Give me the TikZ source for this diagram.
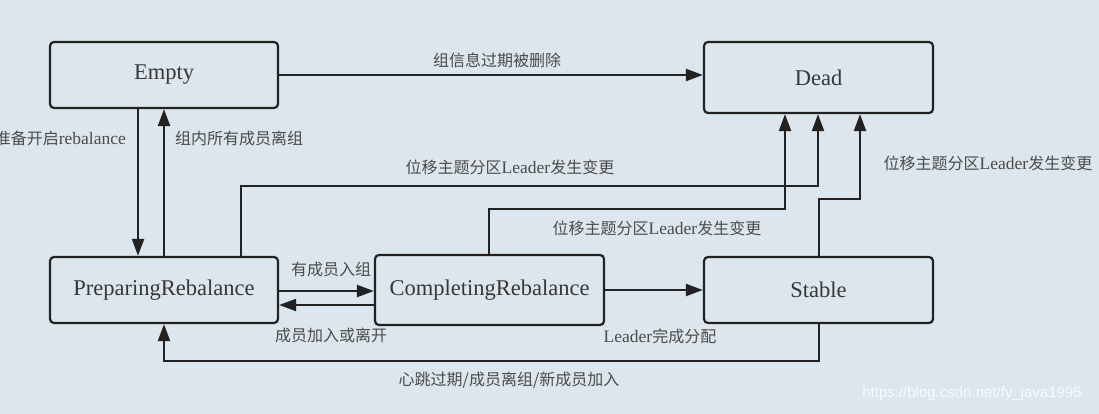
\documentclass[tikz,border=0pt]{standalone}
\usepackage{fontspec}
\setmainfont{Liberation Serif}
\newfontfamily\cjk{Noto Sans CJK SC}
\newfontfamily\wmfont{Liberation Sans}
\usetikzlibrary{arrows.meta}
\definecolor{bg}{RGB}{220,230,236}
\definecolor{ln}{RGB}{34,34,34}
\definecolor{tx}{RGB}{55,55,55}
\definecolor{lb}{RGB}{75,75,75}
\definecolor{wm}{RGB}{248,250,252}
\newcommand\zhtxt[1]{{\cjk\fontsize{16}{19}\selectfont #1}}
\begin{document}
\begin{tikzpicture}[x=1pt,y=-1pt,
  state/.style={draw=ln, line width=2.2pt, rounded corners=4pt, fill=bg,
    minimum width=228pt, minimum height=66pt, inner sep=0pt, text=tx,
    font=\fontsize{22.5}{26}\selectfont},
  conn/.style={draw=ln, line width=2.2pt, -{Triangle[length=17pt,width=12pt]}},
  lbl/.style={text=lb, font=\fontsize{17.5}{20}\selectfont, inner sep=0pt},
]
\fill[bg] (0,0) rectangle (1099,414);
\useasboundingbox (0,0) rectangle (1099,414);

% states
\node[state] (empty) at (164,75) {Empty};
\node[state, minimum width=229pt, minimum height=71pt] (dead) at (818.5,77.5) {Dead};
\node[state] (prep) at (164,290) {PreparingRebalance};
\node[state, minimum width=229pt, minimum height=70pt] (comp) at (489.5,290) {CompletingRebalance};
\node[state, minimum width=229pt] (stable) at (818.5,290) {Stable};

% helper coordinates
\coordinate (pd) at (241,186);
\coordinate (cd) at (489,209);
\coordinate (sd) at (819,199);
\coordinate (sb) at (819,361);

% connectors
\draw[conn] (empty.east) -- (dead.west |- empty.east);
\draw[conn] (empty.south -| 138,0) -- (prep.north -| 138,0);
\draw[conn] (prep.north -| 164,0) -- (empty.south -| 164,0);
\draw[conn] (prep.north -| pd) -- (pd) -- (pd -| 818,0) -- (dead.south -| 818,0);
\draw[conn] (comp.north -| cd) -- (cd) -- (cd -| 785,0) -- (dead.south -| 785,0);
\draw[conn] (stable.north -| sd) -- (sd) -- (sd -| 860,0) -- (dead.south -| 860,0);
\draw[conn] (prep.east |- 0,291) -- (comp.west |- 0,291);
\draw[conn] (comp.west |- 0,305) -- (prep.east |- 0,305);
\draw[conn] (comp.east) -- (stable.west);
\draw[conn] (stable.south -| sb) -- (sb) -- (sb -| prep.south) -- (prep.south);

% labels
\node[lbl] (l1) at (497,60) {\zhtxt{组信息过期被删除}};
\node[lbl, anchor=east] (l2) at (126,138) {\zhtxt{准备开启}rebalance};
\node[lbl, anchor=west] (l3) at (175,138) {\zhtxt{组内所有成员离组}};
\node[lbl] (l4) at (510,167) {\zhtxt{位移主题分区}Leader\zhtxt{发生变更}};
\node[lbl] (l5) at (657,228) {\zhtxt{位移主题分区}Leader\zhtxt{发生变更}};
\node[lbl] (l6) at (988,163) {\zhtxt{位移主题分区}Leader\zhtxt{发生变更}};
\node[lbl] (l7) at (331,269) {\zhtxt{有成员入组}};
\node[lbl] (l8) at (331,335) {\zhtxt{成员加入或离开}};
\node[lbl] (l9) at (660,336) {Leader\zhtxt{完成分配}};
\node[lbl] (l10) at (509,380) {\zhtxt{心跳过期/成员离组/新成员加入}};
\node[text=wm, inner sep=0pt, font=\wmfont\fontsize{15}{17}\selectfont] (wmark) at (972,394) {https://blog.csdn.net/fy\_java1995};
\end{tikzpicture}
\end{document}
